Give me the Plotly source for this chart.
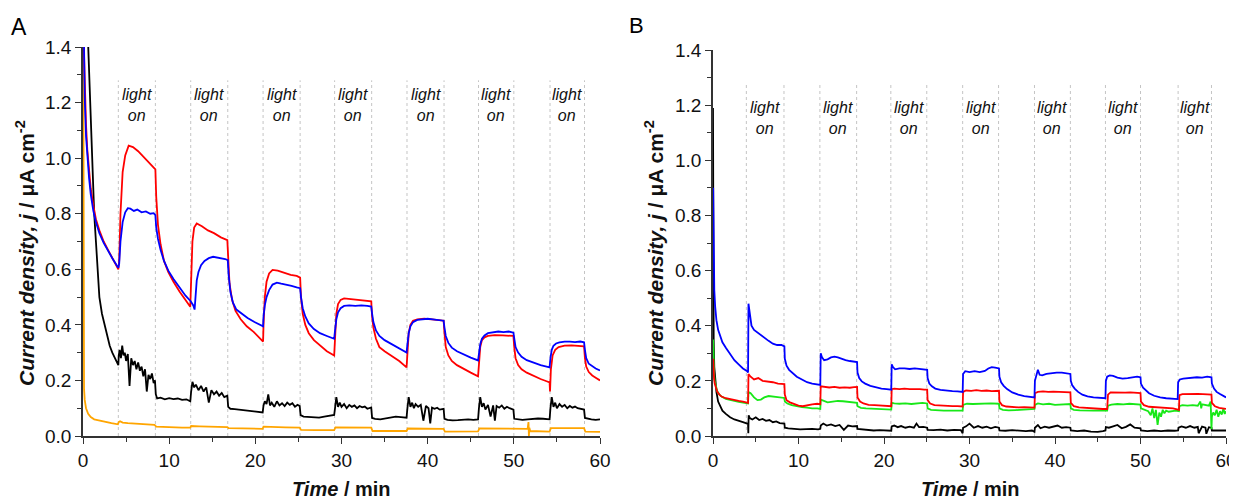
import plotly.graph_objects as go

# ---------------- light switching times (min) ----------------
A_light_on = [4.1, 12.5, 20.9, 29.2, 37.6, 45.9, 54.2]
A_light_off = [8.4, 16.8, 25.2, 33.5, 41.9, 50.0, 58.2]
B_light_on = [3.9, 12.5, 20.8, 29.2, 37.6, 45.9, 54.4]
B_light_off = [8.3, 16.8, 25.0, 33.4, 41.8, 50.0, 58.3]

x_ticks = [0, 10, 20, 30, 40, 50, 60]
y_ticks = [0.0, 0.2, 0.4, 0.6, 0.8, 1.0, 1.2, 1.4]

# ---------------- Panel A ----------------
tA_red = [0.05, 0.2, 0.35, 0.5, 0.7, 0.9, 1.2, 1.5, 1.9, 2.4, 2.9, 3.4, 3.8, 4.1,
          4.2, 4.35, 4.6, 4.9, 5.3, 5.8, 6.4, 7.0, 7.6, 8.1, 8.4,
          8.5, 8.7, 9.0, 9.4, 9.9, 10.5, 11.2, 11.9, 12.45,
          12.55, 12.7, 12.9, 13.2, 13.8, 14.5, 15.2, 16.0, 16.75,
          16.85, 17.0, 17.3, 17.7, 18.3, 19.0, 19.8, 20.5, 20.9,
          20.95, 21.1, 21.3, 21.6, 22.0, 22.6, 23.3, 24.1, 24.8, 25.2,
          25.3, 25.5, 25.8, 26.2, 26.8, 27.5, 28.3, 29.15,
          29.25, 29.4, 29.6, 29.9, 30.3, 31.0, 31.8, 32.6, 33.45,
          33.55, 33.7, 34.0, 34.4, 35.0, 35.8, 36.7, 37.55,
          37.65, 37.8, 38.0, 38.3, 38.8, 39.6, 40.5, 41.3, 41.85,
          41.95, 42.1, 42.4, 42.8, 43.4, 44.2, 45.0, 45.85,
          45.95, 46.1, 46.3, 46.6, 47.0, 47.8, 48.7, 49.5, 49.95,
          50.05, 50.2, 50.5, 50.9, 51.5, 52.3, 53.1, 53.8, 54.15, 54.2,
          54.3, 54.5, 54.8, 55.2, 55.9, 56.7, 57.5, 58.15,
          58.25, 58.4, 58.7, 59.1, 59.5, 60.0]
jA_red = [1.45, 1.26, 1.12, 1.03, 0.95, 0.89, 0.83, 0.78, 0.74, 0.70, 0.67, 0.64, 0.62, 0.60,
          0.63, 0.80, 0.95, 1.01, 1.045, 1.04, 1.025, 1.005, 0.985, 0.97, 0.96,
          0.86, 0.76, 0.69, 0.63, 0.59, 0.555, 0.52, 0.49, 0.465,
          0.56, 0.70, 0.75, 0.765, 0.755, 0.74, 0.73, 0.715, 0.705,
          0.62, 0.55, 0.49, 0.45, 0.42, 0.395, 0.375, 0.355, 0.34,
          0.40, 0.50, 0.555, 0.585, 0.598, 0.595, 0.588, 0.58, 0.576, 0.57,
          0.50, 0.44, 0.40, 0.37, 0.345, 0.325, 0.305, 0.29,
          0.36, 0.44, 0.475, 0.49, 0.495, 0.493, 0.49, 0.488, 0.485,
          0.43, 0.39, 0.35, 0.32, 0.305, 0.29, 0.27, 0.247,
          0.31, 0.37, 0.40, 0.415, 0.42, 0.422, 0.42, 0.418, 0.415,
          0.37, 0.32, 0.29, 0.27, 0.255, 0.24, 0.228, 0.215,
          0.27, 0.32, 0.345, 0.355, 0.36, 0.363, 0.362, 0.362, 0.36,
          0.32, 0.28, 0.255, 0.24, 0.228, 0.215, 0.205, 0.197, 0.193, 0.16,
          0.24, 0.29, 0.31, 0.32, 0.325, 0.326, 0.325, 0.323,
          0.28, 0.25, 0.23, 0.218, 0.21, 0.20]

tA_blue = [0.1, 0.2, 0.35, 0.5, 0.7, 0.9, 1.2, 1.5, 1.9, 2.4, 2.9, 3.4, 3.8, 4.1,
           4.2, 4.35, 4.6, 4.9, 5.2, 5.5, 5.9, 6.3, 6.8, 7.3, 7.8, 8.2, 8.4,
           8.5, 8.7, 9.0, 9.4, 9.9, 10.5, 11.2, 11.9, 12.5, 12.8, 12.95,
           13.05, 13.2, 13.4, 13.7, 14.1, 14.6, 15.1, 15.6, 16.1, 16.5, 16.8,
           16.9, 17.1, 17.4, 17.8, 18.4, 19.1, 19.9, 20.5, 20.9,
           20.95, 21.1, 21.3, 21.6, 22.0, 22.5, 23.0, 23.6, 24.2, 24.8, 25.2,
           25.3, 25.5, 25.8, 26.2, 26.8, 27.5, 28.3, 29.15,
           29.25, 29.4, 29.6, 29.9, 30.3, 30.9, 31.6, 32.3, 33.0, 33.45,
           33.55, 33.7, 34.0, 34.4, 35.0, 35.8, 36.7, 37.55,
           37.65, 37.8, 38.0, 38.3, 38.8, 39.4, 40.0, 40.6, 41.2, 41.85,
           41.95, 42.1, 42.4, 42.8, 43.4, 44.2, 45.0, 45.85,
           45.95, 46.1, 46.3, 46.6, 47.0, 47.6, 48.2, 48.8, 49.4, 49.95,
           50.05, 50.2, 50.5, 50.9, 51.5, 52.3, 53.1, 53.8, 54.15,
           54.25, 54.4, 54.6, 54.9, 55.3, 55.9, 56.5, 57.1, 57.7, 58.15,
           58.25, 58.4, 58.7, 59.1, 59.5, 60.0]
jA_blue = [1.45, 1.22, 1.08, 1.0, 0.93, 0.87, 0.81, 0.77, 0.73, 0.695, 0.665, 0.64, 0.62, 0.605,
           0.62, 0.70, 0.77, 0.805, 0.82, 0.818, 0.81, 0.815, 0.805, 0.808, 0.80, 0.802, 0.795,
           0.75, 0.71, 0.67, 0.63, 0.595, 0.565, 0.535, 0.505, 0.485, 0.47, 0.455,
           0.50, 0.56, 0.59, 0.615, 0.63, 0.64, 0.645, 0.643, 0.64, 0.637, 0.633,
           0.58, 0.52, 0.48, 0.455, 0.44, 0.425, 0.41, 0.40, 0.395,
           0.43, 0.47, 0.50, 0.525, 0.545, 0.552, 0.548, 0.545, 0.54, 0.535, 0.532,
           0.50, 0.46, 0.43, 0.405, 0.385, 0.37, 0.36, 0.35,
           0.38, 0.42, 0.445, 0.46, 0.468, 0.47, 0.468, 0.47, 0.468, 0.466,
           0.44, 0.41, 0.38, 0.36, 0.345, 0.33, 0.315, 0.30,
           0.33, 0.37, 0.395, 0.41, 0.418, 0.42, 0.422, 0.42, 0.418, 0.415,
           0.39, 0.36, 0.335, 0.318, 0.305, 0.293, 0.282, 0.272,
           0.30, 0.33, 0.35, 0.362, 0.37, 0.374, 0.376, 0.374, 0.376, 0.372,
           0.35, 0.32, 0.30, 0.285, 0.273, 0.263, 0.255, 0.25, 0.247,
           0.28, 0.31, 0.325, 0.333, 0.337, 0.34, 0.34, 0.338, 0.34, 0.337,
           0.31, 0.28, 0.26, 0.25, 0.243, 0.236]

tA_black = [0.55, 0.7, 0.9, 1.1, 1.3, 1.5, 1.7, 1.9, 2.2, 2.5, 2.8, 3.1, 3.4, 3.7, 4.0, 4.1,
            4.15, 4.25, 4.4, 4.55, 4.7, 4.85, 5.0, 5.2, 5.4, 5.6, 5.8, 6.0, 6.2, 6.4, 6.6, 6.8,
            7.0, 7.2, 7.4, 7.6, 7.8, 8.0, 8.2, 8.35,
            8.45, 8.6, 9.0, 9.5, 10.0, 10.5, 11.0, 11.5, 12.0, 12.45,
            12.55, 12.7, 12.9, 13.1, 13.4, 13.7, 14.0, 14.3, 14.6, 14.9, 15.2, 15.5, 15.8, 16.1, 16.4, 16.75,
            16.85, 17.1, 17.6, 18.2, 18.8, 19.4, 20.0, 20.5, 20.85,
            20.95, 21.1, 21.3, 21.5, 21.7, 21.9, 22.2, 22.5, 22.8, 23.1, 23.4, 23.7, 24.0, 24.3, 24.6, 24.9, 25.15,
            25.25, 25.6, 26.2, 26.8, 27.4, 28.0, 28.6, 29.15,
            29.25, 29.4, 29.6, 29.8, 30.0, 30.3, 30.6, 30.9, 31.2, 31.5, 31.8, 32.1, 32.4, 32.7, 33.0, 33.45,
            33.55, 33.9, 34.5, 35.1, 35.7, 36.3, 36.9, 37.55,
            37.65, 37.8, 38.0, 38.2, 38.4, 38.6, 38.9, 39.2, 39.5, 39.8, 40.1, 40.3, 40.5, 40.8, 41.1, 41.4, 41.85,
            41.95, 42.3, 42.9, 43.5, 44.1, 44.7, 45.3, 45.85,
            45.95, 46.1, 46.3, 46.5, 46.7, 47.0, 47.3, 47.6, 47.8, 48.0, 48.3, 48.6, 48.9, 49.2, 49.5, 49.95,
            50.05, 50.4, 51.0, 51.6, 52.2, 52.8, 53.4, 54.15,
            54.25, 54.4, 54.6, 54.8, 55.0, 55.3, 55.6, 55.9, 56.2, 56.5, 56.8, 57.1, 57.4, 57.7, 58.15,
            58.25, 58.6, 59.0, 59.5, 60.0]
jA_black = [1.45, 1.32, 1.12, 0.95, 0.80, 0.70, 0.60, 0.50, 0.44, 0.40, 0.36, 0.325, 0.30, 0.28, 0.262, 0.255,
            0.29, 0.31, 0.28, 0.325, 0.29, 0.30, 0.27, 0.295, 0.18, 0.28, 0.255, 0.27, 0.24, 0.265, 0.235, 0.25,
            0.215, 0.24, 0.16, 0.22, 0.205, 0.225, 0.19, 0.20,
            0.15, 0.135, 0.138, 0.132, 0.136, 0.133, 0.135, 0.13, 0.132, 0.125,
            0.16, 0.195, 0.175, 0.185, 0.165, 0.18, 0.16, 0.175, 0.12, 0.165, 0.15, 0.16, 0.145, 0.155, 0.14, 0.145,
            0.105, 0.098, 0.097, 0.095, 0.094, 0.092, 0.09, 0.088, 0.085,
            0.11, 0.125, 0.115, 0.15, 0.11, 0.12, 0.105, 0.125, 0.11, 0.118, 0.108, 0.12, 0.112, 0.118, 0.105, 0.112, 0.108,
            0.075, 0.07, 0.068, 0.067, 0.066, 0.07, 0.072, 0.076,
            0.10, 0.14, 0.105, 0.12, 0.105, 0.115, 0.10, 0.112, 0.105, 0.11, 0.10, 0.108, 0.103, 0.106, 0.098, 0.103,
            0.065, 0.062, 0.06, 0.063, 0.065, 0.07, 0.068, 0.066,
            0.10, 0.14, 0.105, 0.12, 0.10, 0.115, 0.105, 0.112, 0.055, 0.108, 0.10, 0.045, 0.102, 0.098, 0.102, 0.095, 0.098,
            0.062, 0.058, 0.056, 0.057, 0.058, 0.06, 0.058, 0.06,
            0.10, 0.14, 0.105, 0.118, 0.095, 0.112, 0.07, 0.11, 0.055, 0.108, 0.102, 0.11, 0.098, 0.105, 0.10, 0.095,
            0.062, 0.06, 0.058, 0.06, 0.062, 0.063, 0.062, 0.06,
            0.10, 0.14, 0.105, 0.12, 0.10, 0.115, 0.105, 0.112, 0.10, 0.108, 0.102, 0.106, 0.10, 0.098, 0.095,
            0.065, 0.062, 0.06, 0.058, 0.06]

tA_orange = [0.03, 0.05, 0.08, 0.12, 0.2, 0.35, 0.6, 0.9, 1.3, 1.9, 2.6, 3.3, 4.05, 4.15, 4.3, 4.6,
             5.2, 6.0, 7.0, 8.3, 8.5, 9.5, 10.5, 11.5, 12.45, 12.55, 13.5, 14.5, 15.5, 16.75,
             16.9, 18.0, 19.5, 20.85, 20.95, 22.0, 23.5, 25.15, 25.3, 27.0, 29.15, 29.3, 31.0,
             33.45, 33.6, 35.5, 37.55, 37.7, 39.5, 41.85, 42.0, 44.0, 45.85, 46.0, 48.0, 50.0,
             50.2, 51.6, 51.7, 51.75, 51.8, 51.9, 53.0, 54.15, 54.3, 56.0, 58.15, 58.3, 60.0]
jA_orange = [1.45, 0.33, 0.25, 0.17, 0.13, 0.10, 0.08, 0.068, 0.06, 0.055, 0.05, 0.046, 0.042, 0.05, 0.053, 0.048,
             0.046, 0.044, 0.042, 0.04, 0.034, 0.032, 0.031, 0.03, 0.03, 0.036, 0.035, 0.034, 0.033, 0.032,
             0.028, 0.027, 0.026, 0.026, 0.034, 0.032, 0.031, 0.03, 0.022, 0.021, 0.021, 0.031, 0.031,
             0.03, 0.018, 0.017, 0.018, 0.027, 0.027, 0.026, 0.016, 0.016, 0.017, 0.027, 0.027, 0.027,
             0.026, 0.026, 0.05, 0.0, 0.03, 0.018, 0.016, 0.016, 0.028, 0.029, 0.028, 0.016, 0.015]

# ---------------- Panel B ----------------
tB_blue = [0.02, 0.05, 0.1, 0.15, 0.25, 0.4, 0.6, 0.8, 1.1, 1.5, 2.0, 2.5, 3.0, 3.5, 4.0, 4.1,
           4.15, 4.3, 4.5, 4.8, 5.2, 5.6, 6.0, 6.5, 7.0, 7.5, 8.0, 8.35,
           8.4, 8.6, 8.9, 9.3, 9.8, 10.4, 11.0, 11.6, 12.2, 12.55,
           12.6, 12.75, 13.0, 13.4, 13.8, 14.2, 14.6, 15.0, 15.5, 16.0, 16.5, 16.85,
           16.9, 17.1, 17.4, 17.8, 18.4, 19.0, 19.7, 20.3, 20.85,
           20.9, 21.05, 21.3, 21.8, 22.4, 23.0, 23.6, 24.2, 24.7, 25.05,
           25.1, 25.3, 25.6, 26.0, 26.6, 27.3, 28.0, 28.6, 29.2,
           29.25, 29.5, 30.0, 30.6, 31.2, 31.8, 32.2, 32.6, 33.0, 33.45,
           33.5, 33.7, 34.0, 34.4, 35.0, 35.7, 36.4, 37.0, 37.6,
           37.65, 37.8, 38.0, 38.2, 38.5, 39.0, 39.6, 40.2, 40.8, 41.4, 41.8,
           41.85, 42.0, 42.3, 42.7, 43.2, 43.8, 44.5, 45.2, 45.9,
           45.95, 46.1, 46.4, 46.8, 47.3, 47.9, 48.5, 49.1, 49.6, 50.0,
           50.05, 50.3, 50.6, 51.0, 51.6, 52.3, 53.0, 53.7, 54.35,
           54.4, 54.6, 55.0, 55.5, 56.0, 56.6, 57.2, 57.8, 58.3,
           58.35, 58.6, 58.9, 59.3, 59.7, 60.0]
jB_blue = [0.90, 0.75, 0.62, 0.53, 0.47, 0.42, 0.385, 0.365, 0.34, 0.32, 0.295, 0.275, 0.26, 0.245, 0.235, 0.23,
           0.48, 0.44, 0.40, 0.385, 0.375, 0.365, 0.355, 0.345, 0.335, 0.33, 0.33, 0.325,
           0.28, 0.255, 0.24, 0.228, 0.215, 0.205, 0.195, 0.19, 0.188, 0.185,
           0.30, 0.285, 0.275, 0.278, 0.285, 0.288, 0.285, 0.28, 0.275, 0.272, 0.27, 0.268,
           0.23, 0.21, 0.198, 0.19, 0.182, 0.177, 0.172, 0.17, 0.168,
           0.26, 0.25, 0.242, 0.245, 0.245, 0.243, 0.245, 0.243, 0.242, 0.24,
           0.21, 0.19, 0.18, 0.172, 0.167, 0.164, 0.163, 0.162, 0.16,
           0.225, 0.235, 0.232, 0.235, 0.232, 0.236, 0.245, 0.25, 0.248, 0.245,
           0.215, 0.195, 0.182, 0.17, 0.158, 0.15, 0.145, 0.142, 0.14,
           0.20, 0.215, 0.24, 0.222, 0.22, 0.225, 0.228, 0.23, 0.23, 0.228, 0.225,
           0.20, 0.185, 0.172, 0.16, 0.15, 0.144, 0.14, 0.138, 0.137,
           0.20, 0.215, 0.22, 0.218, 0.212, 0.208, 0.21, 0.212, 0.215, 0.213,
           0.19, 0.175, 0.165, 0.155, 0.146, 0.14, 0.137, 0.135, 0.134,
           0.195, 0.205, 0.208, 0.21, 0.212, 0.213, 0.212, 0.215, 0.213,
           0.19, 0.172, 0.16, 0.152, 0.145, 0.14]

tB_red = [0.02, 0.05, 0.12, 0.2, 0.35, 0.5, 0.75, 1.0, 1.5, 2.0, 2.5, 3.0, 3.5, 4.0, 4.1,
          4.15, 4.4, 4.8, 5.3, 5.8, 6.4, 7.0, 7.6, 8.35,
          8.4, 8.6, 9.0, 9.5, 10.0, 10.5, 11.0, 11.6, 12.2, 12.55,
          12.6, 13.0, 13.6, 14.2, 14.8, 15.4, 16.0, 16.5, 16.85,
          16.9, 17.2, 17.6, 18.2, 18.9, 19.6, 20.3, 20.85,
          20.9, 21.2, 21.8, 22.4, 23.0, 23.6, 24.2, 24.7, 25.05,
          25.1, 25.4, 25.9, 26.6, 27.3, 28.0, 28.6, 29.2,
          29.25, 29.6, 30.2, 30.8, 31.4, 32.0, 32.6, 33.45,
          33.5, 33.8, 34.3, 35.0, 35.7, 36.4, 37.0, 37.6,
          37.65, 38.0, 38.6, 39.2, 39.8, 40.4, 41.0, 41.8,
          41.85, 42.2, 42.8, 43.5, 44.2, 44.9, 45.6, 46.1,
          46.2, 46.5, 47.0, 47.6, 48.2, 48.8, 49.4, 50.0,
          50.05, 50.4, 51.0, 51.7, 52.4, 53.1, 53.8, 54.5,
          54.55, 54.9, 55.5, 56.1, 56.7, 57.3, 57.9, 58.3,
          58.35, 58.7, 59.2, 59.6, 60.0]
jB_red = [0.28, 0.24, 0.21, 0.19, 0.17, 0.16, 0.15, 0.143, 0.137, 0.133, 0.13, 0.127, 0.125, 0.122, 0.12,
          0.225, 0.215, 0.205, 0.21, 0.20, 0.198, 0.195, 0.19, 0.188,
          0.15, 0.13, 0.122, 0.115, 0.11, 0.108, 0.112, 0.115, 0.117, 0.115,
          0.18, 0.178, 0.176, 0.178, 0.175, 0.176, 0.175, 0.177, 0.178,
          0.14, 0.125, 0.118, 0.113, 0.112, 0.11, 0.109, 0.108,
          0.17, 0.172, 0.17, 0.172, 0.17, 0.171, 0.17, 0.168, 0.168,
          0.13, 0.118, 0.112, 0.11, 0.109, 0.108, 0.108, 0.107,
          0.16, 0.165, 0.164, 0.166, 0.164, 0.165, 0.163, 0.164,
          0.125, 0.112, 0.107, 0.105, 0.104, 0.105, 0.104, 0.103,
          0.155, 0.16, 0.162, 0.16, 0.161, 0.16, 0.158, 0.158,
          0.12, 0.108, 0.104, 0.102, 0.10, 0.099, 0.098, 0.098,
          0.15, 0.158, 0.157, 0.158, 0.157, 0.158, 0.157, 0.156,
          0.125, 0.112, 0.106, 0.104, 0.103, 0.102, 0.10, 0.095,
          0.148, 0.152, 0.153, 0.152, 0.153, 0.152, 0.151, 0.15,
          0.12, 0.108, 0.102, 0.10, 0.098]

tB_green = [0.02, 0.05, 0.12, 0.2, 0.35, 0.5, 0.75, 1.0, 1.5, 2.0, 2.5, 3.0, 3.5, 4.0, 4.1,
            4.15, 4.4, 4.8, 5.2, 5.6, 6.0, 6.5, 7.0, 7.6, 8.35,
            8.4, 8.7, 9.2, 9.8, 10.4, 11.0, 11.6, 12.2, 12.55,
            12.6, 12.9, 13.4, 14.0, 14.6, 15.2, 15.8, 16.4, 16.85,
            16.9, 17.3, 17.9, 18.6, 19.3, 20.0, 20.85,
            20.9, 21.2, 21.8, 22.5, 23.2, 23.9, 24.5, 25.05,
            25.1, 25.5, 26.2, 27.0, 27.8, 28.5, 29.2,
            29.25, 29.7, 30.4, 31.1, 31.8, 32.5, 33.45,
            33.5, 33.9, 34.6, 35.4, 36.2, 37.0, 37.6,
            37.65, 38.0, 38.6, 39.3, 40.0, 40.7, 41.8,
            41.85, 42.2, 42.9, 43.7, 44.5, 45.3, 46.1,
            46.2, 46.6, 47.3, 48.0, 48.7, 49.4, 50.0,
            50.05, 50.4, 50.9, 51.2, 51.4, 51.6, 51.8, 52.0, 52.2, 52.4, 52.6, 52.8, 53.0, 53.3, 53.7, 54.1, 54.5,
            54.55, 54.9, 55.5, 56.1, 56.7, 57.0, 57.1, 57.2, 57.6, 58.0, 58.2, 58.25, 58.3,
            58.35, 58.5, 58.7, 58.9, 59.1, 59.3, 59.5, 59.7, 59.85, 60.0]
jB_green = [0.35, 0.28, 0.23, 0.20, 0.175, 0.162, 0.15, 0.143, 0.135, 0.13, 0.127, 0.124, 0.122, 0.12, 0.118,
            0.16, 0.155, 0.14, 0.13, 0.132, 0.14, 0.145, 0.143, 0.14, 0.138,
            0.125, 0.118, 0.112, 0.108, 0.105, 0.103, 0.10, 0.10, 0.098,
            0.132, 0.128, 0.122, 0.125, 0.127, 0.126, 0.124, 0.122, 0.12,
            0.108, 0.102, 0.10, 0.099, 0.098, 0.097, 0.096,
            0.12, 0.118, 0.117, 0.118, 0.116, 0.118, 0.12, 0.118,
            0.10, 0.095, 0.093, 0.092, 0.092, 0.093, 0.092,
            0.113, 0.117, 0.116, 0.117, 0.116, 0.118, 0.117,
            0.10, 0.095, 0.093, 0.094, 0.095, 0.096, 0.098,
            0.113, 0.118, 0.115, 0.117, 0.113, 0.115, 0.116,
            0.10, 0.095, 0.093, 0.092, 0.092, 0.093, 0.092,
            0.11, 0.114, 0.116, 0.115, 0.117, 0.115, 0.114,
            0.10, 0.095, 0.09, 0.075, 0.10, 0.065, 0.095, 0.04, 0.085, 0.07, 0.095, 0.082, 0.092, 0.088, 0.09, 0.092, 0.09,
            0.108, 0.112, 0.11, 0.112, 0.11, 0.125, 0.10, 0.115, 0.112, 0.11, 0.125, 0.06, 0.025,
            0.07, 0.085, 0.075, 0.095, 0.07, 0.09, 0.078, 0.10, 0.08, 0.09]

tB_black = [0.0, 0.03, 0.08, 0.15, 0.25, 0.4, 0.6, 0.85, 1.1, 1.5, 2.0, 2.5, 3.0, 3.5, 4.0, 4.1, 4.13, 4.17,
            4.3, 4.6, 5.0, 5.4, 5.8, 6.2, 6.6, 7.0, 7.4, 7.8, 8.35,
            8.4, 8.8, 9.5, 10.2, 10.9, 11.6, 12.3, 12.55,
            12.6, 12.9, 13.3, 13.8, 14.3, 14.8, 15.3, 15.8, 16.3, 16.85,
            16.9, 17.4, 18.1, 18.8, 19.5, 20.2, 20.85,
            20.9, 21.2, 21.6, 22.0, 22.5, 23.0, 23.5, 23.8, 24.1, 24.6, 25.05,
            25.1, 25.8, 26.6, 27.4, 28.2, 29.0, 29.2,
            29.25, 29.6, 30.0, 30.5, 31.0, 31.5, 32.0, 32.5, 33.0, 33.45,
            33.5, 34.2, 35.0, 35.8, 36.6, 37.3, 37.6,
            37.65, 38.0, 38.3, 38.8, 39.3, 39.8, 40.3, 40.8, 41.3, 41.8,
            41.85, 42.6, 43.4, 44.2, 45.0, 45.6, 45.9,
            45.95, 46.3, 46.8, 47.3, 47.8, 48.3, 48.8, 49.3, 50.0,
            50.05, 50.8, 51.6, 52.4, 53.2, 54.0, 54.4,
            54.45, 54.8, 55.3, 55.8, 56.3, 56.7, 56.8, 57.2, 57.6, 57.7, 58.0, 58.3,
            58.35, 58.8, 59.4, 60.0]
jB_black = [1.19, 0.60, 0.35, 0.25, 0.20, 0.16, 0.125, 0.105, 0.092, 0.08, 0.068, 0.06, 0.054, 0.05, 0.045, 0.043, 0.01, 0.075,
            0.065, 0.06, 0.068, 0.058, 0.062, 0.055, 0.058, 0.05, 0.053, 0.047, 0.045,
            0.03, 0.028, 0.026, 0.024, 0.025, 0.026, 0.024, 0.026,
            0.038, 0.045, 0.038, 0.042, 0.036, 0.04, 0.022, 0.038, 0.035, 0.036,
            0.026, 0.024, 0.022, 0.02, 0.021, 0.02, 0.019,
            0.035, 0.038, 0.032, 0.036, 0.03, 0.034, 0.03, 0.045, 0.032, 0.033, 0.03,
            0.022, 0.021, 0.023, 0.02, 0.022, 0.021, 0.01,
            0.03, 0.035, 0.045, 0.03, 0.036, 0.03, 0.034, 0.028, 0.033, 0.03,
            0.02, 0.019, 0.021, 0.02, 0.018, 0.02, 0.015,
            0.03, 0.04, 0.028, 0.034, 0.03, 0.033, 0.038, 0.03, 0.032, 0.03,
            0.02, 0.018, 0.02, 0.016, 0.015, 0.018, 0.02,
            0.032, 0.03, 0.035, 0.04, 0.028, 0.033, 0.042, 0.03, 0.028,
            0.02, 0.018, 0.02, 0.018, 0.02, 0.019, 0.02,
            0.03, 0.035, 0.03, 0.036, 0.03, 0.033, 0.01, 0.034, 0.03, 0.008, 0.032, 0.03,
            0.02, 0.019, 0.02, 0.02]

# ---------------- styling ----------------
FONT = "Liberation Sans, Arial, sans-serif"
C_RED, C_BLUE, C_BLACK, C_ORANGE, C_GREEN = "#ff0000", "#0000ff", "#000000", "#ffa500", "#18e818"
LW = 1.8

# page body has an 8 px margin: the figure is sized/positioned in screen pixels minus that offset
OFF = 8
W, H = 1237 - OFF, 503 - OFF


def px(sx):
    return (sx - OFF) / W


def py(sy):
    return 1 - (sy - OFF) / H


fig = go.Figure()


def add(t, j, color, xa, ya):
    fig.add_trace(go.Scatter(x=t, y=j, mode="lines", line=dict(color=color, width=LW),
                             xaxis=xa, yaxis=ya, showlegend=False, hoverinfo="skip"))


add(tA_orange, jA_orange, C_ORANGE, "x", "y")
add(tA_black, jA_black, C_BLACK, "x", "y")
add(tA_red, jA_red, C_RED, "x", "y")
add(tA_blue, jA_blue, C_BLUE, "x", "y")

add(tB_black, jB_black, C_BLACK, "x2", "y2")
add(tB_green, jB_green, C_GREEN, "x2", "y2")
add(tB_red, jB_red, C_RED, "x2", "y2")
add(tB_blue, jB_blue, C_BLUE, "x2", "y2")

shapes = []
annotations = []
for on_list, off_list, xr, yr, ytxt in [(A_light_on, A_light_off, "x", "y", 1.19),
                                        (B_light_on, B_light_off, "x2", "y2", 1.155)]:
    for t in on_list + off_list:
        shapes.append(dict(type="line", xref=xr, yref=yr, x0=t, x1=t, y0=0, y1=1.28,
                           line=dict(color="#c4c4c4", width=1, dash="dot"), layer="below"))
    for a, b in zip(on_list, off_list):
        annotations.append(dict(xref=xr, yref=yr, x=(a + b) / 2, y=ytxt, text="<i>light<br>on</i>",
                                showarrow=False, font=dict(family=FONT, size=16, color="#111"),
                                xanchor="center", yanchor="middle", align="center"))

ytitle = "<b><i>Current density, j</i> / μA cm<sup>-2</sup></b>"
xtitle = "<b><i>Time</i> / min</b>"
annotations += [
    dict(xref="paper", yref="paper", x=px(25), y=py(253), text=ytitle, textangle=-90,
         showarrow=False, font=dict(family=FONT, size=21, color="#111"), xanchor="center", yanchor="middle"),
    dict(xref="paper", yref="paper", x=px(654), y=py(253), text=ytitle, textangle=-90,
         showarrow=False, font=dict(family=FONT, size=21, color="#111"), xanchor="center", yanchor="middle"),
    dict(xref="paper", yref="paper", x=px(341), y=py(489), text=xtitle,
         showarrow=False, font=dict(family=FONT, size=20, color="#111"), xanchor="center", yanchor="middle"),
    dict(xref="paper", yref="paper", x=px(970), y=py(489), text=xtitle,
         showarrow=False, font=dict(family=FONT, size=20, color="#111"), xanchor="center", yanchor="middle"),
    dict(xref="paper", yref="paper", x=px(19), y=py(27), text="A",
         showarrow=False, font=dict(family=FONT, size=23, color="#000"), xanchor="center", yanchor="middle"),
    dict(xref="paper", yref="paper", x=px(636), y=py(25), text="B",
         showarrow=False, font=dict(family=FONT, size=22, color="#000"), xanchor="center", yanchor="middle"),
]


def xaxis(domain, anchor):
    return dict(domain=domain, anchor=anchor, range=[0, 60], tickvals=x_ticks,
                ticktext=[str(v) for v in x_ticks], showline=True, linecolor="#333", linewidth=1.5,
                ticks="outside", ticklen=6, tickwidth=1.3, tickcolor="#333",
                minor=dict(ticks="outside", dtick=5, ticklen=4, tickwidth=1.2, tickcolor="#333"),
                showgrid=False, zeroline=False, tickfont=dict(family=FONT, size=19, color="#111"))


def yaxis(domain, anchor):
    return dict(domain=domain, anchor=anchor, range=[0, 1.4], tickvals=y_ticks,
                ticktext=[f"{v:.1f}" for v in y_ticks], showline=True, linecolor="#333", linewidth=1.5,
                ticks="outside", ticklen=6, tickwidth=1.3, tickcolor="#333",
                minor=dict(ticks="outside", dtick=0.1, ticklen=4, tickwidth=1.2, tickcolor="#333"),
                showgrid=False, zeroline=False, tickfont=dict(family=FONT, size=19, color="#111"))


fig.update_layout(
    width=W, height=H, autosize=False,
    margin=dict(l=0, r=0, t=0, b=0, pad=0, autoexpand=False),
    paper_bgcolor="white", plot_bgcolor="white",
    xaxis=xaxis([px(83), px(600)], "y"),
    yaxis=yaxis([py(436), py(47)], "x"),
    xaxis2=xaxis([px(713), px(1226)], "y2"),
    yaxis2=yaxis([py(436), py(50)], "x2"),
    shapes=shapes, annotations=annotations,
)

fig.write_html("out.html")
